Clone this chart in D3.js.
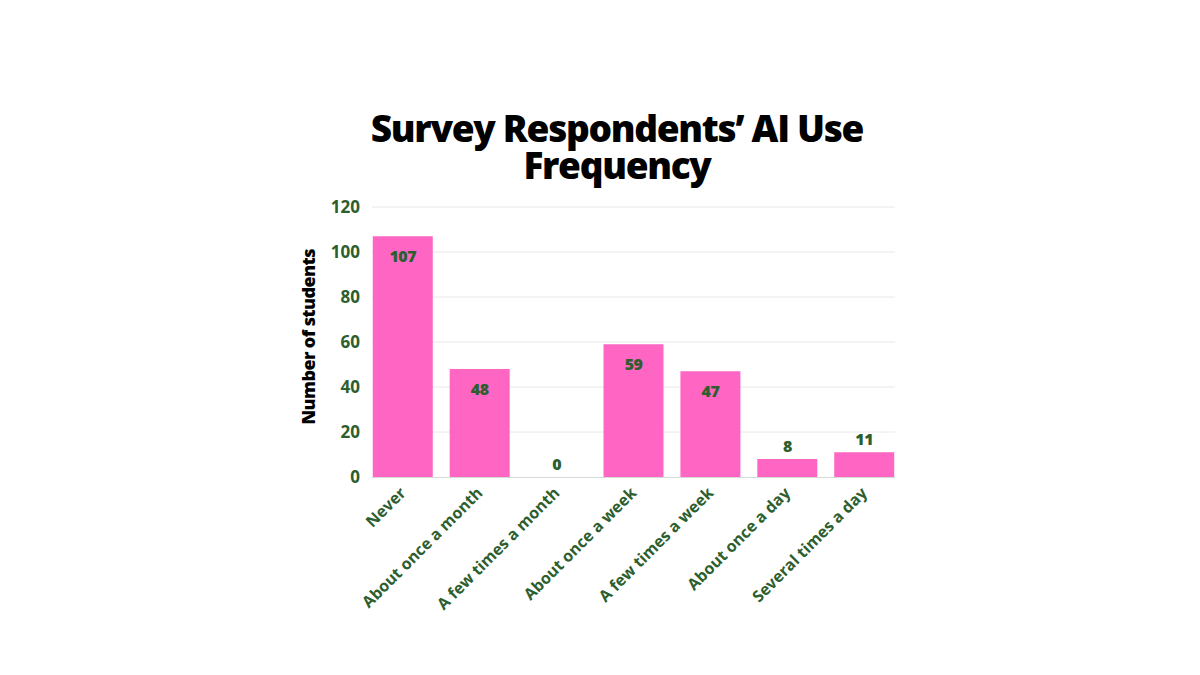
<!DOCTYPE html>
<html>
<head>
<meta charset="utf-8">
<script src="https://cdn.jsdelivr.net/npm/d3@7"></script>
<style>
  body { margin: 0; background: #fff; }
</style>
</head>
<body>
<svg id="chart" width="1200" height="675"></svg>
<script>
var categories = ["Never", "About once a month", "A few times a month", "About once a week",
                  "A few times a week", "About once a day", "Several times a day"];
var counts = [107, 48, 0, 59, 47, 8, 11];
var yTicks = [0, 20, 40, 60, 80, 100, 120];

var svg = d3.select("#chart"),
    margin = {top: 207, right: 305, bottom: 198, left: 372},
    width = svg.attr("width") - margin.left - margin.right,
    height = svg.attr("height") - margin.top - margin.bottom,
    g = svg.append("g").attr("transform", "translate(" + margin.left + "," + margin.top + ")");

var green = "#2d5e2e", pink = "#ff66c4";

var x = d3.scaleBand().domain(categories).range([0, width]).paddingInner(0.22).paddingOuter(0.01);
var y = d3.scaleLinear().domain([0, 120]).range([height, 0]);

// title, two lines set tight like the original
var titleLines = ["Survey Respondents\u2019 AI Use", "Frequency"];
svg.selectAll(".title")
    .data(titleLines)
    .enter().append("text")
    .attr("class", "title")
    .attr("x", 617)
    .attr("y", function(d, i) { return 142 + i * 37; })
    .attr("text-anchor", "middle")
    .style("font", "800 37px 'Open Sans', sans-serif")
    .style("letter-spacing", "-1.3px")
    .attr("fill", "#000")
    .text(function(d) { return d; });

// gridlines
g.append("g")
    .selectAll("line")
    .data(yTicks.slice(1))
    .enter().append("line")
    .attr("x1", 0).attr("x2", width)
    .attr("y1", function(d) { return y(d); })
    .attr("y2", function(d) { return y(d); })
    .attr("stroke", "#e6e8e6")
    .attr("stroke-width", 1);

// y axis
var yAxis = g.append("g")
    .call(d3.axisLeft(y).tickValues(yTicks).tickSize(0).tickPadding(12));
yAxis.select(".domain").remove();
yAxis.selectAll("text")
    .attr("fill", green)
    .style("font", "bold 17px 'Open Sans', sans-serif");

// bars
g.selectAll(".bar")
    .data(counts)
    .enter().append("rect")
    .attr("class", "bar")
    .attr("x", function(d, i) { return x(categories[i]); })
    .attr("y", function(d) { return y(d); })
    .attr("width", x.bandwidth())
    .attr("height", function(d) { return height - y(d); })
    .attr("fill", pink);

// baseline
g.append("line")
    .attr("x1", 0).attr("x2", width)
    .attr("y1", height + 0.5).attr("y2", height + 0.5)
    .attr("stroke", "#d4dad4");

// value labels
g.selectAll(".val")
    .data(counts)
    .enter().append("text")
    .attr("class", "val")
    .attr("x", function(d, i) { return x(categories[i]) + x.bandwidth() / 2; })
    .attr("y", function(d) { return d > 30 ? y(d) + 26 : y(d) - 7; })
    .attr("text-anchor", "middle")
    .attr("fill", green)
    .style("font", "800 16px 'Open Sans', sans-serif")
    .style("letter-spacing", "-0.5px")
    .text(function(d) { return d; });

// x labels
g.selectAll(".xl")
    .data(categories)
    .enter().append("text")
    .attr("class", "xl")
    .attr("transform", function(d) {
      return "translate(" + (x(d) + x.bandwidth() / 2 + 4) + "," + (height + 17) + ") rotate(-45)";
    })
    .attr("text-anchor", "end")
    .attr("fill", green)
    .style("font", "bold 16px 'Open Sans', sans-serif")
    .text(function(d) { return d; });

// y axis title
svg.append("text")
    .attr("transform", "translate(315,337) rotate(-90)")
    .attr("text-anchor", "middle")
    .attr("fill", "#000")
    .style("font", "800 18px 'Open Sans', sans-serif")
    .style("letter-spacing", "-0.6px")
    .text("Number of students");
</script>
</body>
</html>
